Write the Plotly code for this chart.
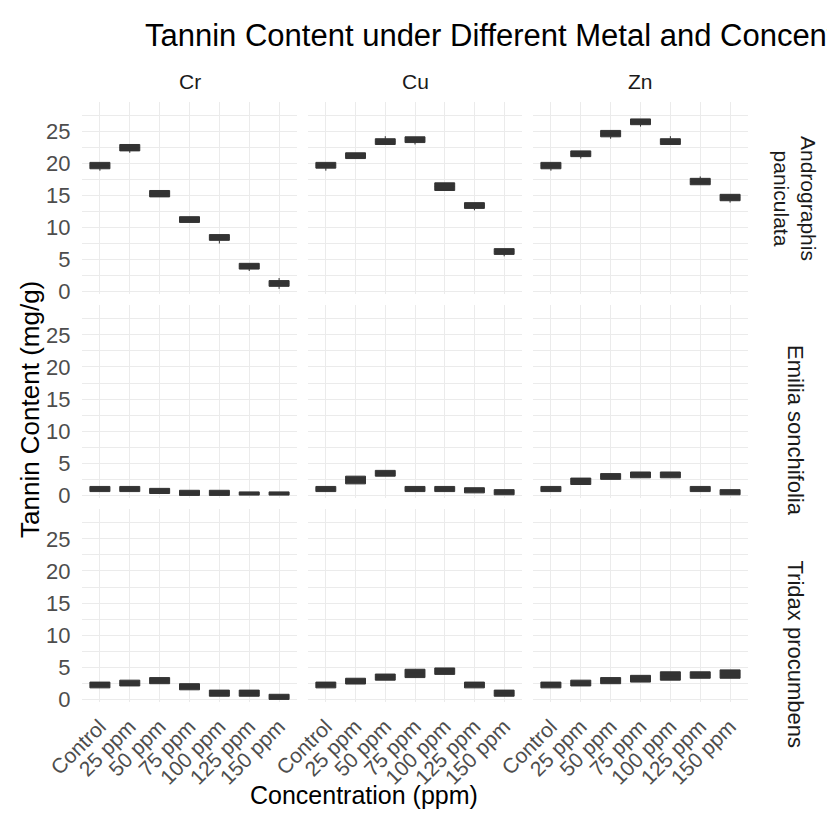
import plotly.graph_objects as go

# The page body adds an 8px margin, so the figure is sized/offset to fill the 835x814 window
OFF = 8
W, H = 835 - OFF, 814 - OFF

concentrations = ["Control", "25 ppm", "50 ppm", "75 ppm", "100 ppm", "125 ppm", "150 ppm"]
metals = ["Cr", "Cu", "Zn"]
species = ["Andrographis<br>paniculata", "Emilia sonchifolia", "Tridax procumbens"]

# Box bounds (q1 / q3) and whisker ends
andro_cr_q1 = [19.2, 22.0, 14.8, 10.8, 8.0, 3.5, 0.8]
andro_cr_q3 = [20.2, 23.0, 15.8, 11.7, 8.9, 4.4, 1.7]
andro_cr_lo = [18.9, 21.7, 14.8, 10.8, 7.5, 3.2, 0.4]
andro_cr_hi = [20.2, 23.0, 15.8, 11.7, 8.9, 4.4, 2.1]

andro_cu_q1 = [19.3, 20.8, 23.0, 23.3, 15.8, 13.0, 5.8]
andro_cu_q3 = [20.2, 21.7, 23.9, 24.2, 17.0, 13.9, 6.7]
andro_cu_lo = [18.9, 20.8, 23.0, 23.0, 15.8, 12.7, 5.5]
andro_cu_hi = [20.2, 21.7, 24.3, 24.2, 17.0, 13.9, 6.7]

andro_zn_q1 = [19.2, 21.1, 24.2, 26.1, 23.0, 16.7, 14.2]
andro_zn_q3 = [20.2, 22.0, 25.2, 27.0, 23.9, 17.7, 15.2]
andro_zn_lo = [18.9, 20.8, 23.9, 25.8, 23.0, 16.7, 13.9]
andro_zn_hi = [20.2, 22.0, 25.2, 27.0, 24.3, 18.0, 15.2]

emilia_cr_q1 = [0.6, 0.6, 0.3, 0.0, 0.0, 0.05, 0.05]
emilia_cr_q3 = [1.4, 1.4, 1.1, 0.8, 0.8, 0.55, 0.55]
emilia_cu_q1 = [0.6, 1.8, 3.0, 0.6, 0.6, 0.4, 0.1]
emilia_cu_q3 = [1.4, 3.0, 3.9, 1.4, 1.4, 1.2, 0.9]
emilia_zn_q1 = [0.6, 1.7, 2.5, 2.75, 2.75, 0.6, 0.1]
emilia_zn_q3 = [1.4, 2.7, 3.4, 3.65, 3.65, 1.4, 0.9]

tridax_cr_q1 = [1.8, 2.1, 2.45, 1.5, 0.5, 0.5, 0.0]
tridax_cr_q3 = [2.7, 3.0, 3.4, 2.45, 1.45, 1.45, 0.8]
tridax_cu_q1 = [1.8, 2.4, 3.0, 3.4, 3.9, 1.8, 0.5]
tridax_cu_q3 = [2.7, 3.3, 3.95, 4.7, 4.9, 2.7, 1.45]
tridax_zn_q1 = [1.8, 2.1, 2.45, 2.7, 3.0, 3.3, 3.3]
tridax_zn_q3 = [2.7, 3.0, 3.4, 3.75, 4.3, 4.3, 4.6]

panels = {
    (0, 0): (andro_cr_q1, andro_cr_q3, andro_cr_lo, andro_cr_hi),
    (0, 1): (andro_cu_q1, andro_cu_q3, andro_cu_lo, andro_cu_hi),
    (0, 2): (andro_zn_q1, andro_zn_q3, andro_zn_lo, andro_zn_hi),
    (1, 0): (emilia_cr_q1, emilia_cr_q3, emilia_cr_q1, emilia_cr_q3),
    (1, 1): (emilia_cu_q1, emilia_cu_q3, emilia_cu_q1, emilia_cu_q3),
    (1, 2): (emilia_zn_q1, emilia_zn_q3, emilia_zn_q1, emilia_zn_q3),
    (2, 0): (tridax_cr_q1, tridax_cr_q3, tridax_cr_q1, tridax_cr_q3),
    (2, 1): (tridax_cu_q1, tridax_cu_q3, tridax_cu_q1, tridax_cu_q3),
    (2, 2): (tridax_zn_q1, tridax_zn_q3, tridax_zn_q1, tridax_zn_q3),
}

# panel edges in window pixels
cols_px = [(82, 297), (308, 522), (533, 748)]
rows_px = [(102, 294), (305, 498), (509, 702)]


def fx(p):
    return (p - OFF) / W


def fy(p):
    return 1 - (p - OFF) / H


FONT = "Liberation Sans, Arial, Helvetica, sans-serif"
GRID = "#ebebeb"
BOX = "#333333"

fig = go.Figure()
layout = dict(
    template="none",
    width=W, height=H, margin=dict(l=0, r=0, t=0, b=0, pad=0, autoexpand=False),
    paper_bgcolor="white", plot_bgcolor="white", showlegend=False,
    font=dict(family=FONT),
)

for r in range(3):
    for c in range(3):
        idx = r * 3 + c + 1
        xa = "xaxis" if idx == 1 else f"xaxis{idx}"
        ya = "yaxis" if idx == 1 else f"yaxis{idx}"
        xref = "x" if idx == 1 else f"x{idx}"
        yref = "y" if idx == 1 else f"y{idx}"
        q1, q3, lo, hi = panels[(r, c)]
        med = [(a + b) / 2 for a, b in zip(q1, q3)]
        fig.add_trace(go.Box(
            x=concentrations, q1=q1, median=med, q3=q3,
            lowerfence=lo, upperfence=hi,
            width=0.67, whiskerwidth=0, boxpoints=False,
            fillcolor=BOX, line=dict(color=BOX, width=1),
            xaxis=xref, yaxis=yref,
        ))
        x0, x1 = cols_px[c]
        y0, y1 = rows_px[r]
        layout[xa] = dict(
            domain=[fx(x0), fx(x1)], anchor=yref, automargin=False,
            type="category", categoryorder="array", categoryarray=concentrations,
            range=[-0.6, 6.6], showgrid=True, gridcolor=GRID, gridwidth=1.2,
            zeroline=False, showline=False,
            showticklabels=(r == 2), tickangle=-45,
            ticks="outside", ticklen=3, tickcolor="rgba(0,0,0,0)",
            tickfont=dict(size=21, color="#4d4d4d", family=FONT),
        )
        layout[ya] = dict(
            domain=[fy(y1), fy(y0)], anchor=xref, automargin=False,
            range=[-0.4, 29.65], tickvals=[0, 5, 10, 15, 20, 25],
            showgrid=True, gridcolor=GRID, gridwidth=1.2,
            minor=dict(dtick=2.5, tick0=0, showgrid=True, gridcolor=GRID, gridwidth=1),
            zeroline=False, showline=False,
            showticklabels=(c == 0),
            ticks="outside", ticklen=6, tickcolor="rgba(0,0,0,0)",
            tickfont=dict(size=22, color="#4d4d4d", family=FONT),
        )

ann = []
ann.append(dict(text="Tannin Content under Different Metal and Concentration",
                x=fx(143), y=fy(36), xref="paper", yref="paper",
                xanchor="left", yanchor="middle", showarrow=False,
                font=dict(size=31, color="black", family=FONT)))
for c, m in enumerate(metals):
    x0, x1 = cols_px[c]
    ann.append(dict(text=m, x=fx((x0 + x1) / 2), y=fy(82), xref="paper", yref="paper",
                    xanchor="center", yanchor="middle", showarrow=False,
                    font=dict(size=21, color="#1a1a1a", family=FONT)))
# right-hand strip labels (rotated, reading downward)
ann.append(dict(text=species[0], x=fx(795), y=fy(198), xref="paper", yref="paper",
                xanchor="center", yanchor="middle", showarrow=False, textangle=90,
                font=dict(size=21, color="#1a1a1a", family=FONT)))
ann.append(dict(text=species[1], x=fx(795), y=fy(430), xref="paper", yref="paper",
                xanchor="center", yanchor="middle", showarrow=False, textangle=90,
                font=dict(size=22, color="#1a1a1a", family=FONT)))
ann.append(dict(text=species[2], x=fx(795), y=fy(558), xref="paper", yref="paper",
                xanchor="center", yanchor="top", showarrow=False, textangle=90,
                font=dict(size=22, color="#1a1a1a", family=FONT)))
ann.append(dict(text="Tannin Content (mg/g)", x=fx(30), y=fy(410), xref="paper", yref="paper",
                xanchor="center", yanchor="middle", showarrow=False, textangle=-90,
                font=dict(size=26, color="black", family=FONT)))
ann.append(dict(text="Concentration (ppm)", x=fx(364), y=fy(795), xref="paper", yref="paper",
                xanchor="center", yanchor="middle", showarrow=False,
                font=dict(size=25, color="black", family=FONT)))
layout["annotations"] = ann

fig.update_layout(**layout)
fig.write_html("out.html")
